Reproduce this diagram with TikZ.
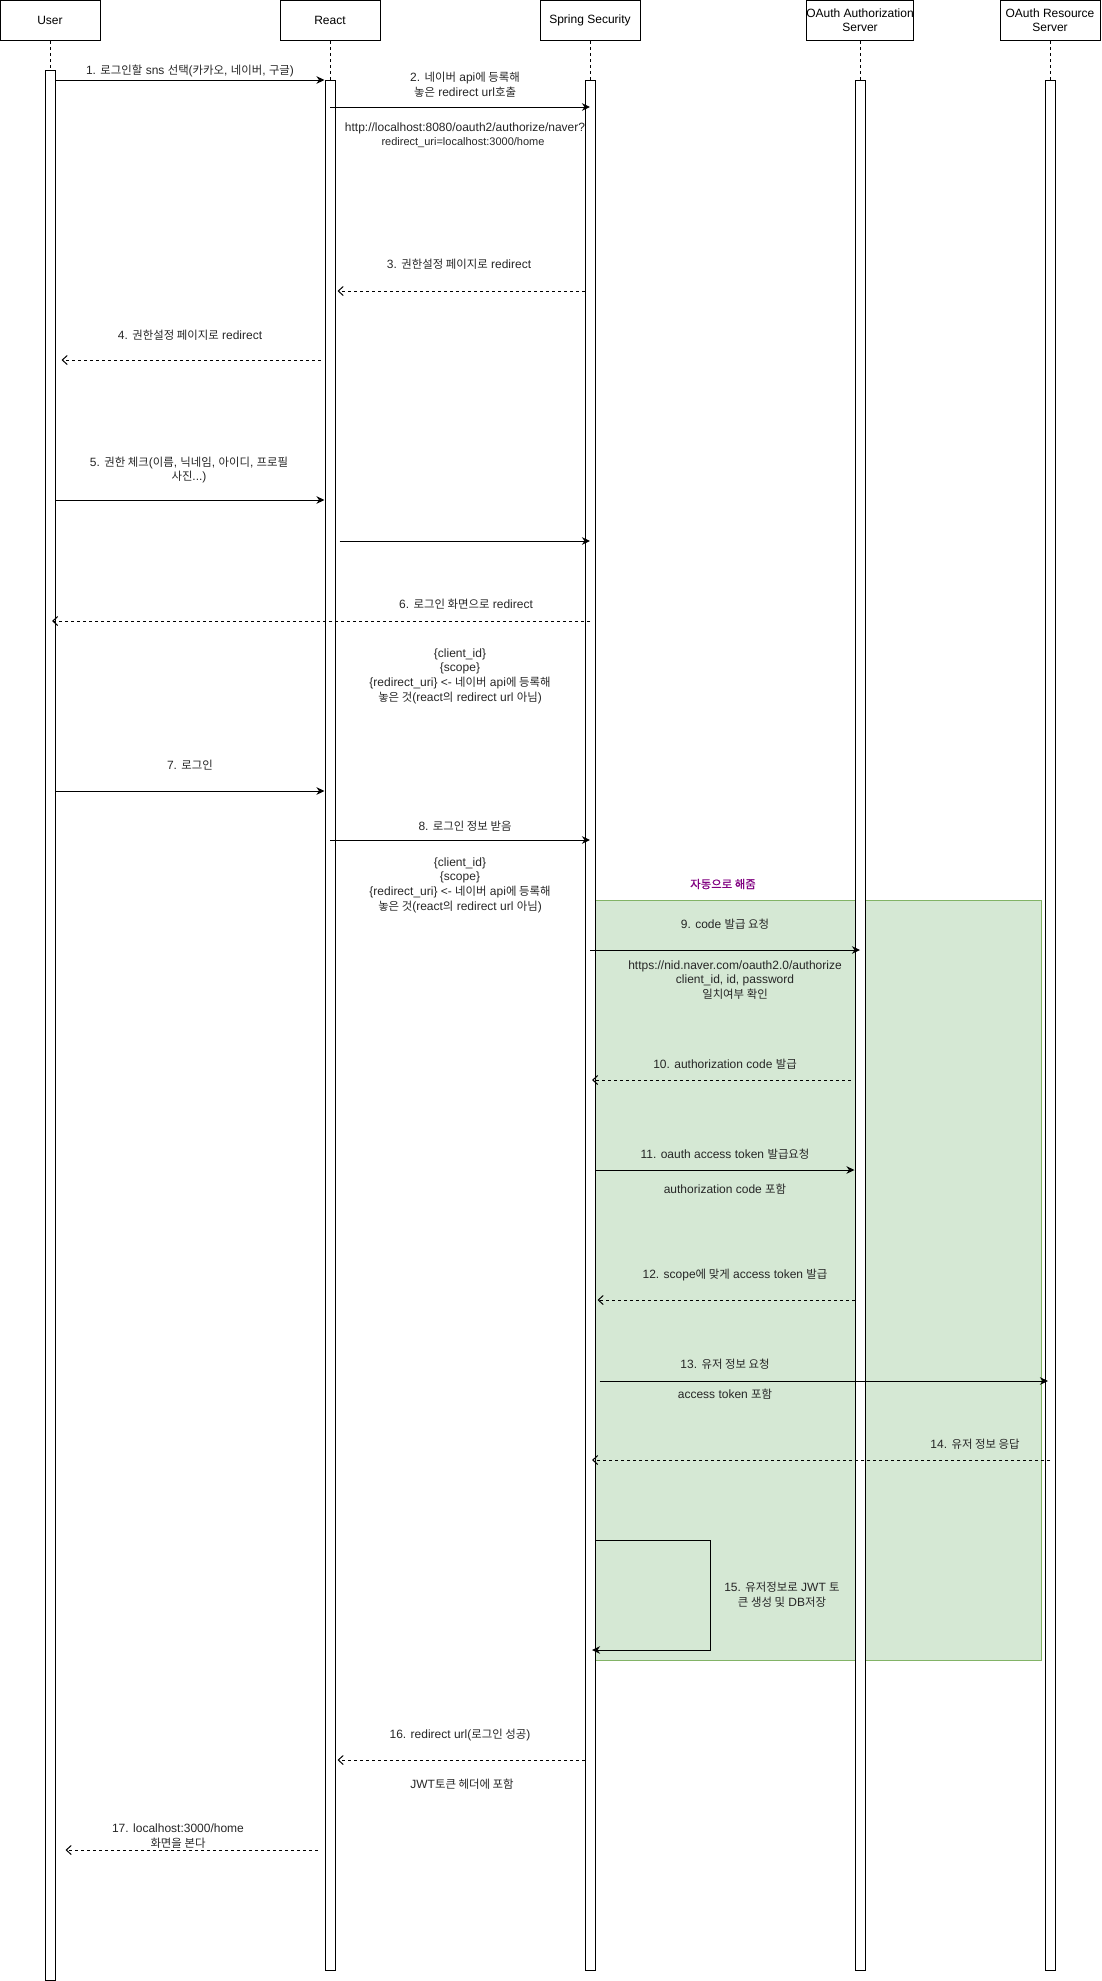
\documentclass[tikz,border=0pt]{standalone}
\usepackage{fontspec}
\setmainfont{Liberation Sans}
\newfontfamily\krfont[Scale=0.95]{Noto Sans CJK KR}
\newfontfamily\krbold[Scale=0.95,FakeBold=0.8]{Noto Sans CJK KR}
\newcommand\kt[1]{{\krfont #1}}
\usetikzlibrary{arrows.meta}
\definecolor{grnfill}{HTML}{D5E8D4}
\definecolor{grnline}{HTML}{82B366}
\definecolor{autocol}{HTML}{800080}
\tikzset{
  hdr/.style={draw, fill=white, minimum width=100pt, minimum height=40pt, inner sep=0pt, align=center, font=\fontsize{12}{14.4}\selectfont, line width=1pt, anchor=north},
  actbar/.style={draw, fill=white, minimum width=10pt, inner sep=0pt, line width=1pt, anchor=north},
  lifeln/.style={dash pattern=on 3pt off 3pt, line width=1pt},
  callmsg/.style={line width=1pt, -{Stealth[length=8pt,width=7.5pt,inset=2.5pt]}},
  retmsg/.style={line width=1pt, dash pattern=on 3pt off 3pt, -{Straight Barb[length=5pt,width=9pt,line width=1pt]}},
  lbl/.style={font=\fontsize{12}{14.6}\selectfont, align=center, inner sep=0pt, text=black!85},
  smalllbl/.style={font=\fontsize{11}{13.2}\selectfont, align=center, inner sep=0pt, text=black!85},
}
\begin{document}
\begin{tikzpicture}[x=1pt,y=-1pt]
\useasboundingbox (0,0) rectangle (1102,1981);
% headers
\node[hdr] (hu) at (50,0) {User};
\node[hdr] (hr) at (330,0) {React};
\node[hdr] (hs) at (590,0) {Spring Security};
\node[hdr] (ha) at (860,0) {OAuth Authorization\\Server};
\node[hdr] (hq) at (1050,0) {OAuth Resource\\Server};
% lifelines
\coordinate (eu) at (50,1980);
\coordinate (er) at (330,1970);
\coordinate (es) at (590,1970);
\coordinate (ea) at (860,1970);
\coordinate (eq) at (1050,1970);
\draw[lifeln] (hu.south) -- (eu);
\draw[lifeln] (hr.south) -- (er);
\draw[lifeln] (hs.south) -- (es);
\draw[lifeln] (ha.south) -- (ea);
\draw[lifeln] (hq.south) -- (eq);
% automatic region
\node[draw=grnline, fill=grnfill, line width=1pt, minimum width=446pt, minimum height=760pt, inner sep=0pt, anchor=north west] (autoreg) at (595,900) {};
\node[font=\fontsize{12}{14.4}\selectfont, text=autocol, inner sep=0pt] (autolbl) at (723,884) {{\krbold 자동으로 해줌}};
% activation bars
\node[actbar, minimum height=1910pt] (ubar) at (50,70) {};
\node[actbar, minimum height=1890pt] (rbar) at (330,80) {};
\node[actbar, minimum height=1890pt] (sbar) at (590,80) {};
\node[actbar, minimum height=1890pt] (abar) at (860,80) {};
\node[actbar, minimum height=1890pt] (qbar) at (1050,80) {};
% messages
\draw[callmsg] (ubar.east |- 0,80) -- (rbar.west |- 0,80);
\draw[callmsg] (rbar.center |- 0,107) -- (sbar.center |- 0,107);
\draw[retmsg, shorten >=2pt] (sbar.west |- 0,291) -- (rbar.east |- 0,291);
\draw[retmsg, shorten <=4pt, shorten >=6pt] (rbar.west |- 0,360) -- (ubar.east |- 0,360);
\draw[callmsg] (ubar.east |- 0,500) -- (rbar.west |- 0,500);
\draw[callmsg, shorten <=4pt] (rbar.east |- 0,541) -- (sbar.center |- 0,541);
\draw[retmsg, shorten >=2pt] (sbar.center |- 0,621) -- (ubar.center |- 0,621);
\draw[callmsg] (ubar.east |- 0,791) -- (rbar.west |- 0,791);
\draw[callmsg] (rbar.center |- 0,840) -- (sbar.center |- 0,840);
\draw[callmsg] (sbar.center |- 0,950) -- (abar.center |- 0,950);
\draw[retmsg, shorten <=4pt, shorten >=2pt] (abar.west |- 0,1080) -- (sbar.center |- 0,1080);
\draw[callmsg] (sbar.east |- 0,1170) -- (abar.west |- 0,1170);
\draw[retmsg, shorten >=2pt] (abar.west |- 0,1300) -- (sbar.east |- 0,1300);
\draw[callmsg, shorten <=4pt, shorten >=2pt] (sbar.east |- 0,1381) -- (qbar.center |- 0,1381);
\draw[retmsg, shorten >=2pt] (qbar.center |- 0,1460) -- (sbar.center |- 0,1460);
\coordinate (lp1) at (710,1540);
\coordinate (lp2) at (710,1650);
\draw[callmsg, shorten >=2pt] (sbar.east |- lp1) -- (lp1) -- (lp2) -- (sbar.center |- lp2);
\draw[retmsg, shorten >=2pt] (sbar.west |- 0,1760) -- (rbar.east |- 0,1760);
\draw[retmsg, shorten <=7pt, shorten >=10pt] (rbar.west |- 0,1850) -- (ubar.east |- 0,1850);
% labels
\node[lbl] (l1) at (190,71) {1. \kt{로그인할} sns \kt{선택}(\kt{카카오}, \kt{네이버}, \kt{구글})};
\node[lbl] (l2) at (465,85) {2. \kt{네이버} api\kt{에 등록해}\\\kt{놓은} redirect url\kt{호출}};
\node[lbl] (url1) at (465,128) {http://localhost:8080/oauth2/authorize/naver?};
\node[smalllbl] (url2) at (463,143) {redirect\_uri=localhost:3000/home};
\node[lbl] (l3) at (459,264) {3. \kt{권한설정 페이지로} redirect};
\node[lbl] (l4) at (190,335) {4. \kt{권한설정 페이지로} redirect};
\node[lbl] (l5) at (189,470) {5. \kt{권한 체크}(\kt{이름}, \kt{닉네임}, \kt{아이디}, \kt{프로필}\\\kt{사진}...)};
\node[lbl] (l6) at (466,604) {6. \kt{로그인 화면으로} redirect};
\node[lbl] (n1) at (460,676) {\{client\_id\}\\\{scope\}\\\{redirect\_uri\} <- \kt{네이버} api\kt{에 등록해}\\\kt{놓은 것}(react\kt{의} redirect url \kt{아님})};
\node[lbl] (l7) at (190,765) {7. \kt{로그인}};
\node[lbl] (l8) at (465,826) {8. \kt{로그인 정보 받음}};
\node[lbl] (n2) at (460,885) {\{client\_id\}\\\{scope\}\\\{redirect\_uri\} <- \kt{네이버} api\kt{에 등록해}\\\kt{놓은 것}(react\kt{의} redirect url \kt{아님})};
\node[lbl] (l9) at (725,924) {9. code \kt{발급 요청}};
\node[lbl] (u9) at (735,980) {https://nid.naver.com/oauth2.0/authorize\\client\_id, id, password\\\kt{일치여부 확인}};
\node[lbl] (l10) at (725,1064) {10. authorization code \kt{발급}};
\node[lbl] (l11) at (725,1154) {11. oauth access token \kt{발급요청}};
\node[lbl] (b11) at (725,1189) {authorization code \kt{포함}};
\node[lbl] (l12) at (735,1275) {12. scope\kt{에 맞게} access token \kt{발급}};
\node[lbl] (l13) at (725,1364) {13. \kt{유저 정보 요청}};
\node[lbl] (b13) at (725,1394) {access token \kt{포함}};
\node[lbl] (l14) at (975,1444) {14. \kt{유저 정보 응답}};
\node[lbl] (l15) at (782,1595) {15. \kt{유저정보로} JWT \kt{토}\\\kt{큰 생성 및} DB\kt{저장}};
\node[lbl] (l16) at (460,1735) {16. redirect url(\kt{로그인 성공})};
\node[lbl] (b16) at (462,1784) {JWT\kt{토큰 헤더에 포함}};
\node[lbl] (l17) at (178,1836) {17. localhost:3000/home\\\kt{화면을 본다}};
\end{tikzpicture}
\end{document}
